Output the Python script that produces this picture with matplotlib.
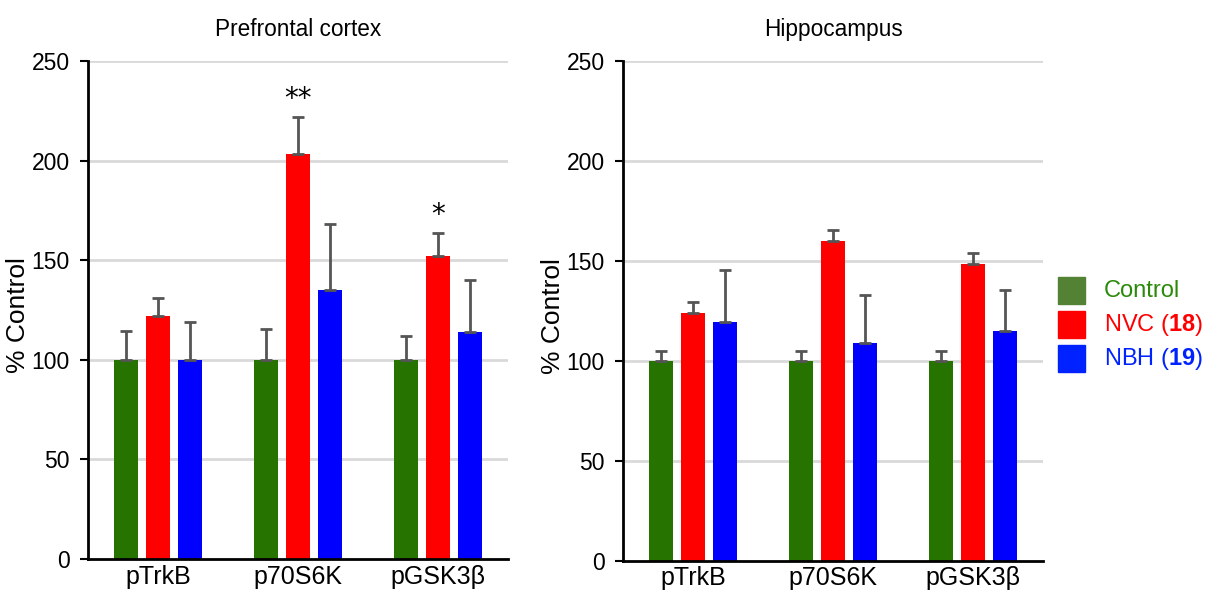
import numpy as np
import matplotlib
matplotlib.use("Agg")
import matplotlib.pyplot as plt
from matplotlib.patches import Rectangle

plt.rcParams['font.family'] = ['Liberation Sans', 'DejaVu Sans']
plt.rcParams['mathtext.fontset'] = 'custom'
plt.rcParams['mathtext.rm'] = 'Liberation Sans'
plt.rcParams['mathtext.bf'] = 'Liberation Sans:bold'

# data
proteins = ['pTrkB', 'p70S6K', 'pGSK3β']

pfc_control = [100, 100, 100]
pfc_control_err = [14.5, 15.5, 12]
pfc_nvc = [122, 203.5, 152]
pfc_nvc_err = [9, 18.5, 11.5]
pfc_nbh = [100, 135, 114]
pfc_nbh_err = [19, 33, 26]
pfc_stars = ['', '**', '*']

hip_control = [100, 100, 100]
hip_control_err = [5, 5, 5]
hip_nvc = [124, 160, 148.5]
hip_nvc_err = [5.5, 5.5, 5.5]
hip_nbh = [119.5, 109, 115]
hip_nbh_err = [26, 24, 20.5]

green = '#267300'
red = '#ff0000'
blue = '#0000ff'


def panel(ax, title, ctrl, ctrl_e, nvc, nvc_e, nbh, nbh_e, stars=None):
    x = np.arange(len(proteins))
    off = 0.228
    w = 0.17
    for dx, vals, errs, col in [(-off, ctrl, ctrl_e, green),
                                (0, nvc, nvc_e, red),
                                (off, nbh, nbh_e, blue)]:
        ax.bar(x + dx, vals, w, color=col, zorder=2)
        ax.errorbar(x + dx, vals, yerr=[np.zeros(len(errs)), errs], fmt='none',
                    ecolor='#555555', elinewidth=2, capsize=4, capthick=2, zorder=3)
    if stars:
        for i, s in enumerate(stars):
            if s:
                ax.text(x[i], nvc[i] + nvc_e[i] + 2, s, ha='center', va='bottom',
                        fontsize=20, family='DejaVu Sans')
    ax.set_xlim(-0.5, 2.5)
    ax.set_ylim(0, 250)
    ax.set_yticks([0, 50, 100, 150, 200, 250])
    ax.set_xticks(x)
    ax.set_xticklabels(proteins, fontsize=18)
    ax.tick_params(axis='x', length=0, pad=4)
    ax.tick_params(axis='y', labelsize=16.5, length=6, width=1.5, pad=7)
    for g in [50, 100, 150, 200, 250]:
        ax.axhline(g, color='#d9d9d9', lw=2, zorder=1)
    ax.spines['top'].set_visible(False)
    ax.spines['right'].set_visible(False)
    ax.spines['left'].set_linewidth(2)
    ax.spines['bottom'].set_linewidth(2)
    ax.set_ylabel('% Control', fontsize=19)
    ax.yaxis.set_label_coords(-0.137, 0.49)
    ax.set_title(title, fontsize=16.3, pad=18)


fig = plt.figure(figsize=(12.05, 5.91), dpi=100)
ax1 = fig.add_axes([0.073, 0.054, 0.3486, 0.843])
ax2 = fig.add_axes([0.517, 0.051, 0.3486, 0.846])

panel(ax1, 'Prefrontal cortex', pfc_control, pfc_control_err, pfc_nvc, pfc_nvc_err,
      pfc_nbh, pfc_nbh_err, pfc_stars)
panel(ax2, 'Hippocampus', hip_control, hip_control_err, hip_nvc, hip_nvc_err,
      hip_nbh, hip_nbh_err)

# legend
leg = [('Control', '#548235', '#2a8a0a'),
       (r'NVC ($\mathbf{18}$)', '#ff0000', '#ff0000'),
       (r'NBH ($\mathbf{19}$)', '#0022ff', '#0022ff')]
W, H = 1205.0, 591.0
for i, (lab, sq, tc) in enumerate(leg):
    top = 277 + i * 34
    fig.patches.append(Rectangle((1058 / W, 1 - (top + 27) / H), 27 / W, 27 / H,
                                 transform=fig.transFigure, color=sq))
    fig.text(1104 / W, 1 - (top + 14) / H, lab, color=tc, fontsize=17,
             ha='left', va='center')

fig.savefig('out.png', dpi=100)
